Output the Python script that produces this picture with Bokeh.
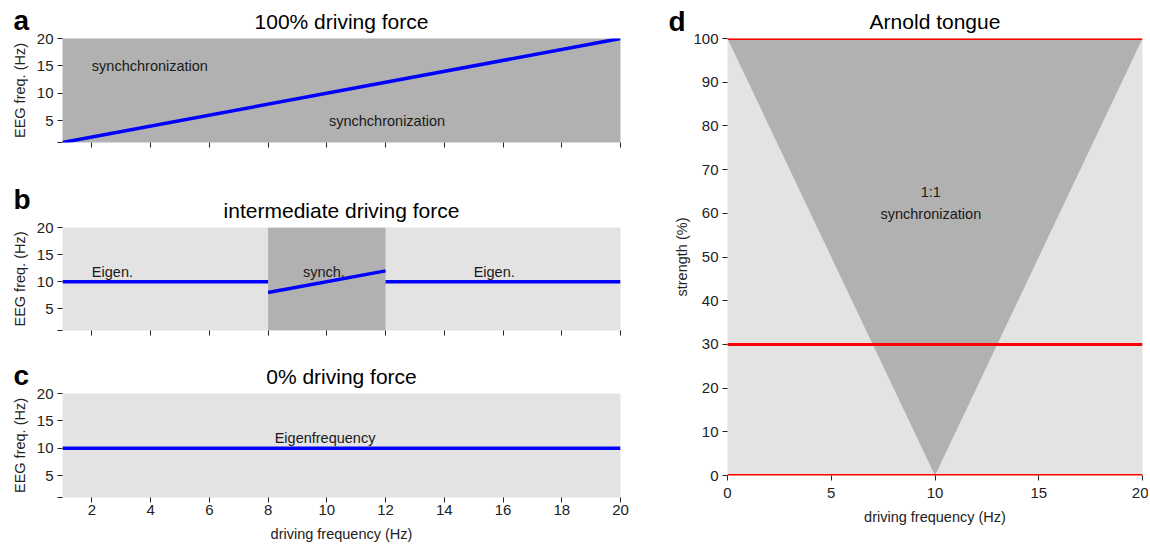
from bokeh.plotting import figure
from bokeh.layouts import row, column
from bokeh.models import FixedTicker, CustomJSTickFormatter, Range1d, Plot
from bokeh.core.properties import value
from bokeh.embed import file_html
from bokeh.resources import INLINE

# ---------------- data ----------------
# panel a: 100% driving force (EEG follows the driver)
drive_a = [1, 20]
eeg_a = [1, 20]
# panel b: intermediate driving force
drive_b_left = [1, 8]
eeg_b_left = [10, 10]
drive_b_sync = [8, 12]
eeg_b_sync = [8, 12]
drive_b_right = [12, 20]
eeg_b_right = [10, 10]
sync_window = [8, 12]
# panel c: 0% driving force
drive_c = [1, 20]
eeg_c = [10, 10]
# panel d: Arnold tongue
tongue_x = [0, 10, 20]
tongue_y = [100, 0, 100]
strength_levels = [0, 30, 100]

x_ticks_abc = [2, 4, 6, 8, 10, 12, 14, 16, 18, 20]
y_ticks_abc = [1, 5, 10, 15, 20]
x_ticks_d = [0, 5, 10, 15, 20]
y_ticks_d = [0, 10, 20, 30, 40, 50, 60, 70, 80, 90, 100]

titles = ["100% driving force", "intermediate driving force", "0% driving force", "Arnold tongue"]
letters = ["a", "b", "c", "d"]

DARK = "#b1b1b1"
LIGHT = "#e3e3e3"
BLUE = "#0000ff"
RED = "#ff0000"
FONT = "Liberation Sans"

LEFT_W = 648
RIGHT_W = 500
HAS_FA = "frame_align" in Plot.properties()


def no_align(p):
    if HAS_FA:
        p.frame_align = False
    return p


def header(width, height, letter, letter_x, letter_mid, title, title_x, title_mid):
    """A strip above a panel holding its letter and its title (pixel layout)."""
    h = figure(width=width, height=height, output_backend="svg", toolbar_location=None,
               x_range=Range1d(0, width), y_range=Range1d(height, 0),
               x_axis_type=None, y_axis_type=None, title_location=None,
               min_border=0, min_border_left=0, min_border_right=0,
               min_border_top=0, min_border_bottom=0, outline_line_color=None,
               background_fill_color="white", border_fill_color="white")
    no_align(h)
    h.xgrid.visible = False
    h.ygrid.visible = False
    h.text(x=[letter_x], y=[letter_mid], text=[letter], text_font=value(FONT),
           text_font_size="28px", text_font_style="bold", text_color="black",
           text_align="left", text_baseline="middle")
    h.text(x=[title_x], y=[title_mid], text=[title], text_font=value(FONT),
           text_font_size="21px", text_color="black",
           text_align="center", text_baseline="middle")
    return h if HAS_FA else row(h)


def style(p):
    no_align(p)
    p.outline_line_color = None
    p.xgrid.visible = False
    p.ygrid.visible = False
    for ax in (p.xaxis[0], p.yaxis[0]):
        ax.axis_line_color = None
        ax.major_tick_line_color = "#222222"
        ax.major_tick_out = 5
        ax.major_tick_in = 0
        ax.minor_tick_out = 0
        ax.minor_tick_in = 0
        ax.major_label_text_font = FONT
        ax.major_label_text_font_size = "15px"
        ax.major_label_text_color = "#222222"
        ax.major_label_standoff = 4
        ax.axis_label_text_font = FONT
        ax.axis_label_text_font_size = "14.5px"
        ax.axis_label_text_font_style = "normal"
        ax.axis_label_text_color = "#222222"


def txt(p, x, y, t, align="left"):
    p.text(x=[x], y=[y], text=[t], text_font=value(FONT), text_font_size="14.5px",
           text_align=align, text_baseline="middle", text_color="#1a1a1a")


def abc_fig(height, top, bottom, bg, show_x_labels):
    p = figure(width=LEFT_W, height=height, output_backend="svg", toolbar_location=None,
               x_range=Range1d(1, 20), y_range=Range1d(1, 20), title_location=None,
               min_border_left=62, min_border_right=28,
               min_border_top=top, min_border_bottom=bottom,
               background_fill_color=bg, border_fill_color="white")
    style(p)
    p.xaxis.ticker = FixedTicker(ticks=x_ticks_abc)
    p.yaxis.ticker = FixedTicker(ticks=y_ticks_abc)
    p.yaxis.major_label_overrides = {1: ""}
    p.yaxis.axis_label = "EEG freq. (Hz)"
    p.yaxis.axis_label_standoff = 6
    if show_x_labels:
        p.xaxis.axis_label = "driving frequency (Hz)"
        p.xaxis.axis_label_standoff = 8
        p.xaxis.major_label_standoff = 2
    else:
        p.xaxis.formatter = CustomJSTickFormatter(code="return ''")
    return p


TITLE_X_L = (62 + 620) / 2

# ---------------- panel a ----------------
ha = header(LEFT_W, 33, letters[0], 13, 20, titles[0], TITLE_X_L, 21)
pa = abc_fig(152, 5, 43, DARK, False)
pa.line(drive_a, eeg_a, line_color=BLUE, line_width=3.5)
txt(pa, 2, 15, "synchchronization")
txt(pa, 12.05, 5, "synchchronization", "center")

# ---------------- panel b ----------------
hb = header(LEFT_W, 37, letters[1], 13, 13.5, titles[1], TITLE_X_L, 25)
pb = abc_fig(138, 5, 30, LIGHT, False)
pb.quad(left=[sync_window[0]], right=[sync_window[1]], bottom=[1], top=[20],
        fill_color=DARK, line_color=None)
pb.line(drive_b_left, eeg_b_left, line_color=BLUE, line_width=3.5)
pb.line(drive_b_sync, eeg_b_sync, line_color=BLUE, line_width=3.5)
pb.line(drive_b_right, eeg_b_right, line_color=BLUE, line_width=3.5)
txt(pb, 2, 11.8, "Eigen.")
txt(pb, 9.9, 11.8, "synch.", "center")
txt(pb, 15, 11.8, "Eigen.")

# ---------------- panel c ----------------
hc = header(LEFT_W, 28, letters[2], 13, 15, titles[2], TITLE_X_L, 15.5)
pc = abc_fig(157, 5, 48, LIGHT, True)
pc.line(drive_c, eeg_c, line_color=BLUE, line_width=3.5)
txt(pc, 9.94, 11.8, "Eigenfrequency", "center")

# ---------------- panel d ----------------
hd = header(RIGHT_W, 33, letters[3], 20, 21, titles[3], (79 + 494) / 2, 21)
pd = figure(width=RIGHT_W, height=512, output_backend="svg", toolbar_location=None,
            x_range=Range1d(0, 20), y_range=Range1d(0, 100), title_location=None,
            min_border_left=79, min_border_right=6, min_border_top=5, min_border_bottom=70,
            background_fill_color=LIGHT, border_fill_color="white")
style(pd)
pd.xaxis.ticker = FixedTicker(ticks=x_ticks_d)
pd.yaxis.ticker = FixedTicker(ticks=y_ticks_d)
pd.xaxis.axis_label = "driving frequency (Hz)"
pd.yaxis.axis_label = "strength (%)"
pd.xaxis.major_label_standoff = 7
pd.xaxis.axis_label_standoff = 8
pd.yaxis.axis_label_standoff = 0
pd.patch(tongue_x, tongue_y, fill_color=DARK, line_color=None)
for s in strength_levels:
    pd.line([x_ticks_d[0], x_ticks_d[-1]], [s, s], line_color=RED, line_width=3)
txt(pd, 9.8, 64.8, "1:1", "center")
txt(pd, 9.8, 59.8, "synchronization", "center")

layout = row(column(ha, pa, hb, pb, hc, pc), column(hd, pd))
open("out.html", "w").write(file_html(layout, INLINE))
